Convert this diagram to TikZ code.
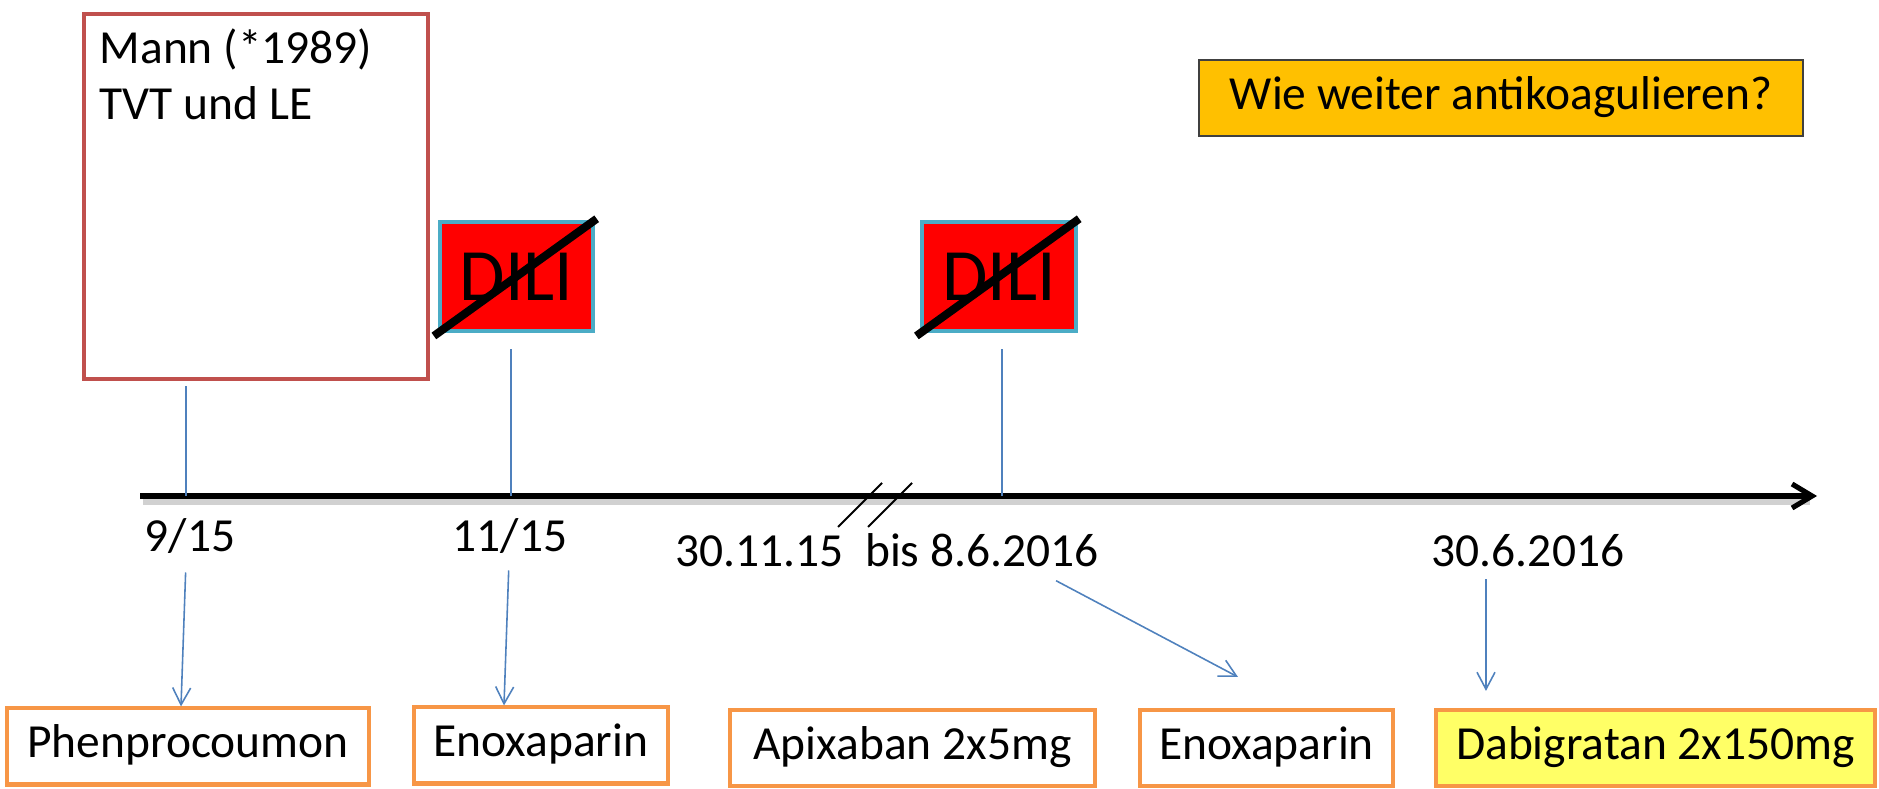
\documentclass[tikz,border=0pt]{standalone}
\usepackage{fontspec}
\setmainfont{Carlito}
\usetikzlibrary{arrows.meta,positioning}

\definecolor{mannred}{HTML}{C0504D}
\definecolor{dilired}{HTML}{FF0000}
\definecolor{diliblue}{HTML}{4BACC6}
\definecolor{qgold}{HTML}{FFC000}
\definecolor{drugorange}{HTML}{F79646}
\definecolor{dabiyellow}{HTML}{FFFF66}
\definecolor{linkblue}{HTML}{4F81BD}

\begin{document}
\begin{tikzpicture}[x=0.01cm, y=0.01cm,
  every node/.style={font=\fontsize{13.5}{15.9}\selectfont},
  patient/.style={draw=mannred, line width=1.15pt, rectangle, minimum width=3.44cm, minimum height=3.65cm, inner sep=0},
  dili/.style={draw=diliblue, fill=dilired, line width=1.15pt, rectangle, minimum width=1.53cm, minimum height=1.09cm, inner sep=0, font=\fontsize{21}{25}\selectfont},
  strike/.style={line width=2.3pt, shorten <=-0.05cm, shorten >=-0.02cm},
  question/.style={draw=black!75, fill=qgold, line width=0.45pt, rectangle, minimum width=6.04cm, minimum height=0.76cm, text height=0.8em, text depth=0.17em},
  drug/.style={draw=drugorange, fill=white, line width=1.15pt, rectangle, minimum height=0.76cm, text height=0.8em, text depth=0.17em},
  datum/.style={anchor=base, inner sep=0, text depth=0.25em},
  tick/.style={draw=linkblue, line width=0.45pt},
  bruch/.style={line width=0.6pt},
  arr/.style={draw=linkblue, line width=0.45pt, -{Straight Barb[length=0.17cm,width=0.18cm]}},
  zeitachse/.style={line width=1.45pt, -{Straight Barb[length=0.2cm,width=0.24cm]}},
]
\useasboundingbox (0,0) rectangle (1879,-789);

% patient and findings
\node (mann) [patient, anchor=north west] at (82,-12) {};
\node (mannText) [inner sep=0, align=left, below right=0.16cm and 0.17cm of mann.north west] {Mann (*1989)\\TVT und LE};
\node (dili1) [dili] at (516.5,-276.5) {DILI};
\node (dili2) [dili] at (999,-276.5) {DILI};
\draw[strike] (dili1.south west) -- (dili1.north east);
\draw[strike] (dili2.south west) -- (dili2.north east);
\node (frage) [question] at (1501,-98) {Wie weiter antikoagulieren?};

% time axis
\coordinate (start) at (140,-496);
\coordinate (ende) at (1817,-496);
\draw[black!18, line width=2pt] (143,-501) -- (1810,-501);
\draw[zeitachse] (start) -- (ende);
\foreach \dx in {0,30}
  \draw[bruch] (838+\dx,-527) -- ++(44,44);

\coordinate (t1) at (186,-496);
\coordinate (t2) at (511,-496);
\coordinate (t3) at (1002,-496);
\draw[tick, shorten >=0.05cm] (t1) -- (t1 |- mann.south);
\draw[tick, shorten >=0.16cm] (t2) -- (t2 |- dili1.south);
\draw[tick, shorten >=0.16cm] (t3) -- (t3 |- dili2.south);

\node (d1) [datum] at (190,-552) {9/15};
\node (d2) [datum] at (510,-552) {11/15};
\node (d3) [datum] at (887,-567) {30.11.15\ \ bis 8.6.2016};
\node (d4) [datum] at (1528,-567) {30.6.2016};

% medication
\node (phen) [drug, minimum width=3.62cm] at (188,-746.5) {Phenprocoumon};
\node (enox1) [drug, minimum width=2.54cm] at (541,-745.5) {Enoxaparin};
\node (apix) [drug, minimum width=3.65cm] at (912.5,-748) {Apixaban 2x5mg};
\node (enox2) [drug, minimum width=2.53cm] at (1266.5,-748) {Enoxaparin};
\node (dabi) [drug, fill=dabiyellow, minimum width=4.39cm] at (1655.5,-748) {Dabigratan 2x150mg};

\coordinate (enoxZiel) at (1238,-677);
\draw[arr, shorten <=0.11cm] ([xshift=-0.04cm]d1.south) -- ([xshift=-0.07cm]phen.north);
\draw[arr, shorten <=0.09cm] ([xshift=-0.01cm]d2.south) -- ([xshift=-0.37cm]enox1.north);
\draw[arr, shorten <=0.09cm] ([xshift=1.61cm]d3.south) -- (enoxZiel);
\draw[arr, shorten <=0.03cm, shorten >=0.17cm] ([xshift=-0.42cm]d4.south) -- ([xshift=-0.42cm]d4.south |- dabi.north);

\end{tikzpicture}
\end{document}
